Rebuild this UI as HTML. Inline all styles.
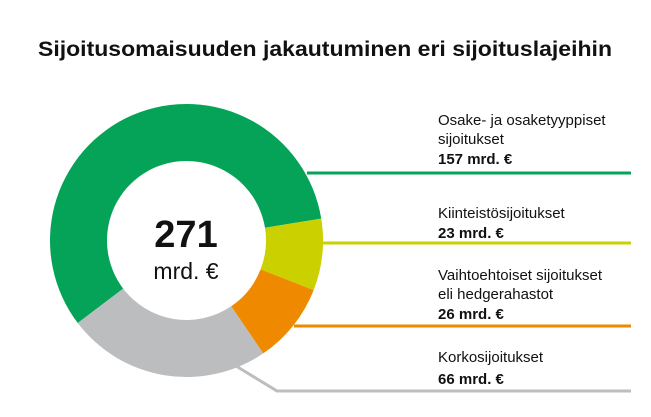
<!DOCTYPE html>
<html><head><meta charset="utf-8"><style>
html,body{margin:0;padding:0;background:#fff;}
svg{display:block;font-family:"Liberation Sans",sans-serif;}
</style></head><body>
<svg width="651" height="417" viewBox="0 0 651 417">
<text x="38" y="56" font-size="21" font-weight="bold" fill="#111" textLength="574" lengthAdjust="spacingAndGlyphs">Sijoitusomaisuuden jakautuminen eri sijoituslajeihin</text>
<g id="d"></g>
<!-- leader lines -->
<polyline points="307,173 631,173" stroke="#05a357" stroke-width="3" fill="none"/>
<polyline points="320,243 631,243" stroke="#cbd100" stroke-width="3" fill="none"/>
<polyline points="294,326 631,326" stroke="#ef8a00" stroke-width="3" fill="none"/>
<polyline points="236,366 277,391 631,391" stroke="#bcbdbf" stroke-width="3" fill="none"/>
<text x="186" y="247" font-size="38" font-weight="bold" text-anchor="middle" fill="#111">271</text>
<text x="186" y="279" font-size="23" text-anchor="middle" fill="#111">mrd. €</text>
<g font-size="15" fill="#111">
<text x="438" y="125">Osake- ja osaketyyppiset</text>
<text x="438" y="144">sijoitukset</text>
<text x="438" y="164" font-weight="bold">157 mrd. €</text>
<text x="438" y="218">Kiinteistösijoitukset</text>
<text x="438" y="238" font-weight="bold">23 mrd. €</text>
<text x="438" y="280">Vaihtoehtoiset sijoitukset</text>
<text x="438" y="299">eli hedgerahastot</text>
<text x="438" y="319" font-weight="bold">26 mrd. €</text>
<text x="438" y="362">Korkosijoitukset</text>
<text x="438" y="384" font-weight="bold">66 mrd. €</text>
</g>
</svg>
<script>
(function(){
var cx=186.5,cy=240.5,R=136.5,r=79.5;
var segs=[[232.8-360,80.8,"#05a357"],[80.8,111.3,"#cbd100"],[111.3,145.8,"#ef8a00"],[145.8,232.8,"#bcbdbf"]];
function p(a,rad){var t=a*Math.PI/180;return [cx+rad*Math.sin(t),cy-rad*Math.cos(t)];}
var g=document.getElementById('d'),ns="http://www.w3.org/2000/svg";
segs.forEach(function(s){
var a0=s[0],a1=s[1],lg=(a1-a0)>180?1:0;
var o0=p(a0,R),o1=p(a1,R),i1=p(a1,r),i0=p(a0,r);
var d="M"+o0+" A"+R+","+R+" 0 "+lg+" 1 "+o1+" L"+i1+" A"+r+","+r+" 0 "+lg+" 0 "+i0+" Z";
var e=document.createElementNS(ns,"path");e.setAttribute("d",d);e.setAttribute("fill",s[2]);g.appendChild(e);
});
})();
</script>
</body></html>
